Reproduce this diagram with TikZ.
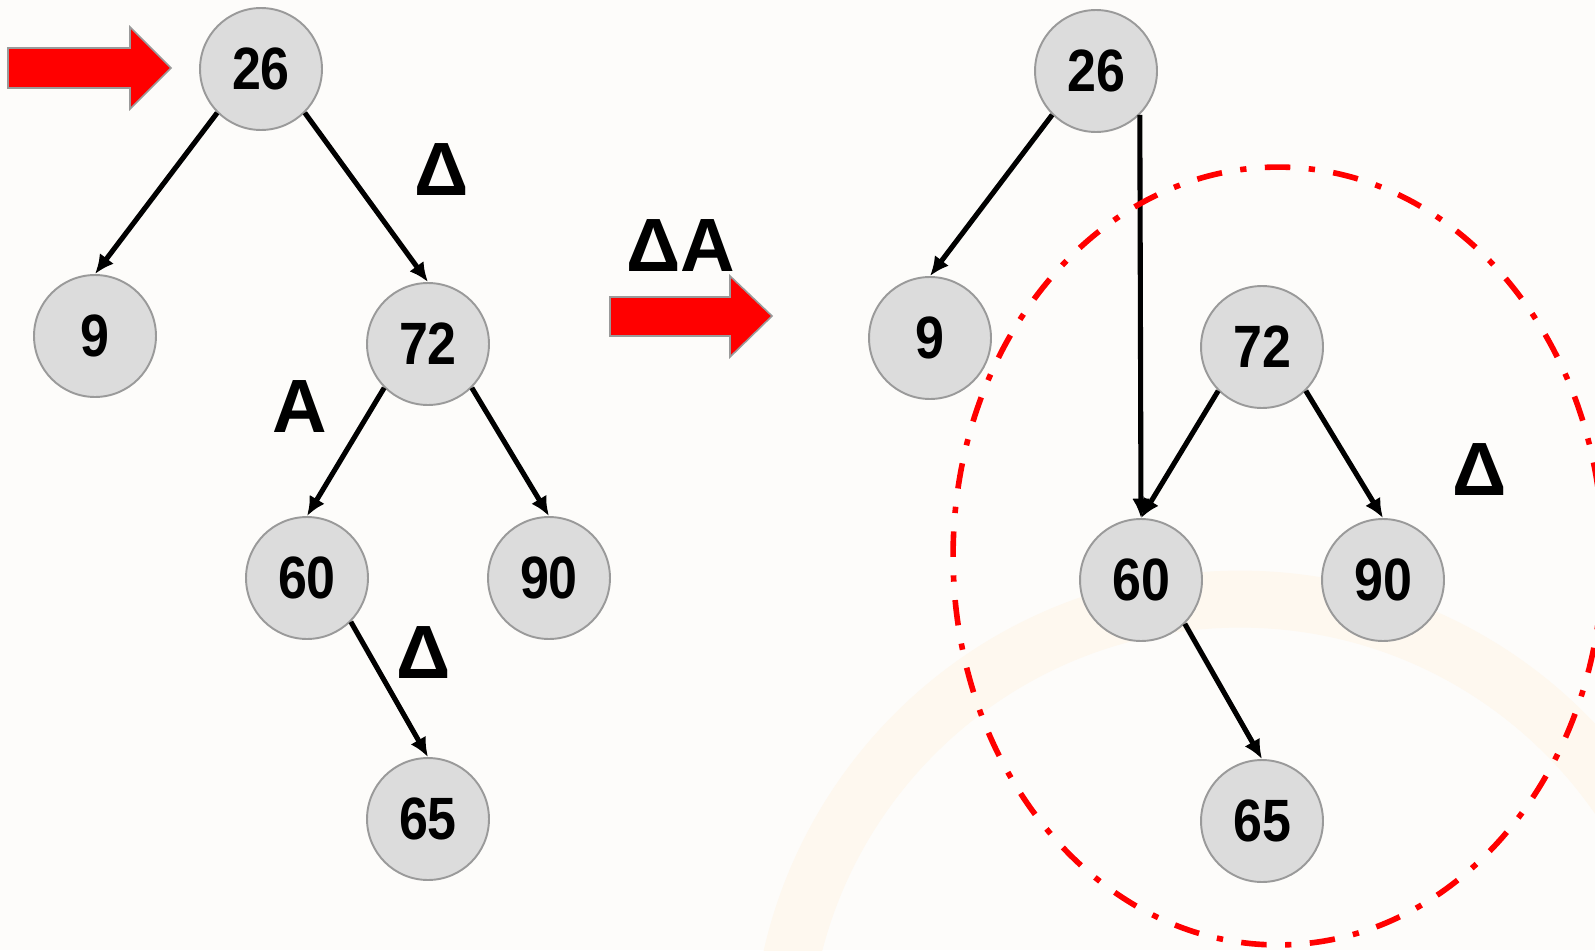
\documentclass[tikz,border=0pt]{standalone}
\usepackage{fontspec}
\setmainfont{Liberation Sans}
\newfontfamily\keyfont[FakeStretch=0.87]{Liberation Sans}
\usepackage{xcolor}
\usepackage{tikz}
\usetikzlibrary{arrows.meta}
\definecolor{BG}{HTML}{FDFCFA}
\definecolor{KeyFill}{HTML}{DCDCDC}
\definecolor{KeyLine}{HTML}{9A9A9A}
\definecolor{Band}{HTML}{FEF8EF}
\definecolor{Mark}{HTML}{FF0000}
\tikzset{%
  key/.style={circle, draw=KeyLine, line width=1.1pt, fill=KeyFill, minimum size=2.44cm, inner sep=0pt, font=\keyfont\fontsize{34}{40}\selectfont\bfseries},%
  edge/.style={line width=2.9pt, -{Latex[length=11pt,width=10pt]}},%
  tag/.style={inner sep=0pt, font=\fontsize{43}{50}\selectfont\bfseries},%
  bigarrow/.style={fill=Mark, draw=KeyLine, line width=0.9pt},%
  ring/.style={draw=Mark, line width=3.2pt, dash pattern=on 14.5pt off 10.5pt on 3.6pt off 10.5pt},%
}

\begin{document}
\begin{tikzpicture}[x=0.02cm, y=-0.02cm]%
\fill[BG] (0,0) rectangle (1595,950);%
\clip (0,0) rectangle (1595,950);%
\draw[Band, line width=1.14cm] (1240,1059) circle [radius=9.2cm];%
% block arrows
\draw[bigarrow] (8,48) -- (130,48) -- (130,27) -- (171,68) -- (130,109) -- (130,88) -- (8,88) -- cycle;%
\draw[bigarrow] (610,297) -- (730,297) -- (730,276) -- (772,316) -- (730,357) -- (730,336) -- (610,336) -- cycle;%
% left tree
\node[key] (l26) at (261,69) {26};%
\node[key] (l9) at (95,336) {9};%
\node[key] (l72) at (428,344) {72};%
\node[key] (l60) at (307,578) {60};%
\node[key] (l90) at (549,578) {90};%
\node[key] (l65) at (428,819) {65};%
\draw[edge] (l26.south west) -- (l9.north);%
\draw[edge] (l26.south east) -- (l72.north);%
\draw[edge] (l72.south west) -- (l60.north);%
\draw[edge] (l72.south east) -- (l90.north);%
\draw[edge] (l60.south east) -- (l65.north);%
\node[tag] (ld1) at (442,170) {Δ};%
\node[tag] (la) at (300,407) {A};%
\node[tag] (ld2) at (424,653) {Δ};%
\node[tag] (mda) at (681,246) {ΔA};%
% right tree
\node[key] (r26) at (1096,71) {26};%
\node[key] (r9) at (930,338) {9};%
\node[key] (r72) at (1262,347) {72};%
\node[key] (r60) at (1141,580) {60};%
\node[key] (r90) at (1383,580) {90};%
\node[key] (r65) at (1262,821) {65};%
\draw[edge] (r26.south west) -- (r9.north);%
\draw[edge] (r26.south east) -- (r60.north);%
\draw[edge] (r72.south west) -- (r60.north);%
\draw[edge] (r72.south east) -- (r90.north);%
\draw[edge] (r60.south east) -- (r65.north);%
\node[tag] (rd) at (1480,470) {Δ};%
\draw[ring] (1278,556) ellipse [x radius=6.5cm, y radius=7.78cm];%
\end{tikzpicture}
\end{document}
